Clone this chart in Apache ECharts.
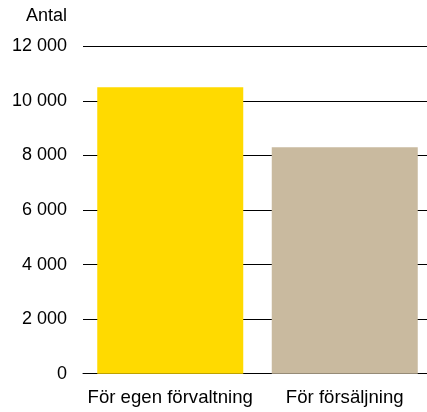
<!DOCTYPE html>
<html>
<head>
<meta charset="utf-8">
<script src="https://cdn.jsdelivr.net/npm/echarts@6/dist/echarts.min.js"></script>
<style>
  html, body { margin: 0; padding: 0; background: #fff; overflow: hidden; }
  #chart { width: 432px; height: 412px; }
</style>
</head>
<body>
<div id="chart"></div>
<script>
// Antal per kategori
const categories = ['För egen förvaltning', 'För försäljning'];
const values = [10500, 8300];
const barColors = ['#FFDA00', '#C9BA9F'];
const yTicks = { min: 0, max: 12000, interval: 2000 };

const fmt = v => String(v).replace(/\B(?=(\d{3})+(?!\d))/g, ' ');

const chart = echarts.init(document.getElementById('chart'), null, { renderer: 'canvas' });
chart.setOption({
  animation: false,
  textStyle: { fontFamily: 'Liberation Sans, Arial, sans-serif' },
  grid: { left: 83, right: 0, top: 46.3, bottom: 38.3, containLabel: false },
  graphic: [{
    type: 'text',
    style: {
      text: 'Antal', x: 67, y: 16.5, textAlign: 'right', textVerticalAlign: 'middle',
      fill: '#000', font: '18px Liberation Sans, Arial, sans-serif'
    }
  }],
  xAxis: {
    type: 'category',
    data: categories,
    axisLine: { show: true, lineStyle: { color: '#000', width: 1 } },
    axisTick: { show: false },
    axisLabel: { color: '#000', fontSize: 18.6, margin: 15, interval: 0, hideOverlap: false }
  },
  yAxis: {
    type: 'value',
    min: yTicks.min, max: yTicks.max, interval: yTicks.interval,
    axisLine: { show: false },
    axisTick: { show: false },
    splitLine: { show: true, lineStyle: { color: '#000', width: 1 } },
    axisLabel: { color: '#000', fontSize: 18, margin: 16, formatter: fmt }
  },
  series: [{
    type: 'bar',
    data: values.map((v, i) => ({ value: v, itemStyle: { color: barColors[i] } })),
    barWidth: 146
  }]
});
</script>
</body>
</html>
